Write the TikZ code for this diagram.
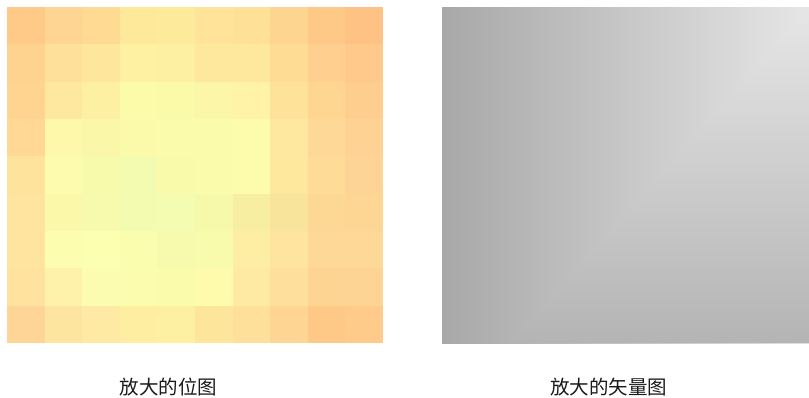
\documentclass[tikz,border=0pt]{standalone}
\usepackage{fontspec}
\newfontfamily\cjk{Noto Sans CJK SC}
\definecolor{gL}{HTML}{A9A8A8}
\definecolor{gR}{HTML}{E6E6E6}
\definecolor{gT}{HTML}{E6E6E6}
\definecolor{gB}{HTML}{B4B4B4}
\definecolor{txt}{HTML}{1A1A1A}
\tikzset{caption/.style={font=\cjk\fontsize{19.5}{19.5}\selectfont, text=txt, inner sep=0pt}}
\begin{document}
\begin{tikzpicture}[x=1pt,y=-1pt]
\useasboundingbox (0,0) rectangle (809,397);
% pixelated bitmap
\foreach \r/\lst in {
0/{FFC987,FED592,FEDA92,FEE89A,FEEA9B,FEE398,FEE096,FED590,FEC886,FEC284},
1/{FED38F,FEE09A,FEE69C,FEF2A2,FDF0A2,FEE89E,FEE89E,FEDC94,FECF8E,FEC98A},
2/{FED490,FEE8A0,FEF0A2,FCFBAA,FBFAA8,FCF6A8,FEF3A6,FEE29A,FED692,FECE8E},
3/{FED894,FDF8AA,FAF8A8,FAFAAA,FAFCAC,FAFCAC,FCFCAC,FEE8A0,FED896,FED292},
4/{FEE39C,FDFCAE,F7FAAA,F2FBB0,FAFBAA,FAFCAC,FCFCAC,FEE89E,FEDC98,FED496},
5/{FEE49E,FCF8AA,F7FAAC,F3FBB0,F3FCB0,F6F9AA,F8EEA2,F8E49A,FDD894,FED694},
6/{FEE49E,FDFDB0,FCFEB0,FAFCAE,F7FAAC,F8FBAC,FEEEA4,FEE49E,FED896,FED896},
7/{FEE29E,FEF2AA,FCFCB0,FCFCAE,FBFBAC,FEFBAD,FEEAA2,FEE09C,FED492,FED494},
8/{FED596,FEE59F,FEEAA2,FEEEA2,FDF0A2,FEE59C,FEE09A,FED592,FEC987,FECB8A}}{
  \foreach \c [count=\col from 0] in \lst {
    \edef\tmp{\noexpand\definecolor{cellc}{HTML}{\c}}\tmp
    \fill[cellc] ({7+\col*37.6},{7+\r*37.333}) rectangle ++({\col==9 ? 37.6 : 37.9},{\r==8 ? 37.333 : 37.6});
  }
}
% vector gradient
\shade[left color=gL, right color=gR] (442,7) rectangle (809,343);
\shade[top color=gT, bottom color=gB] (508,343) -- (809,7) -- (809,343) -- cycle;
% captions
\node[caption] (capL) at (168.5,387) {放大的位图};
\node[caption] (capR) at (608.5,387) {放大的矢量图};
\end{tikzpicture}
\end{document}
